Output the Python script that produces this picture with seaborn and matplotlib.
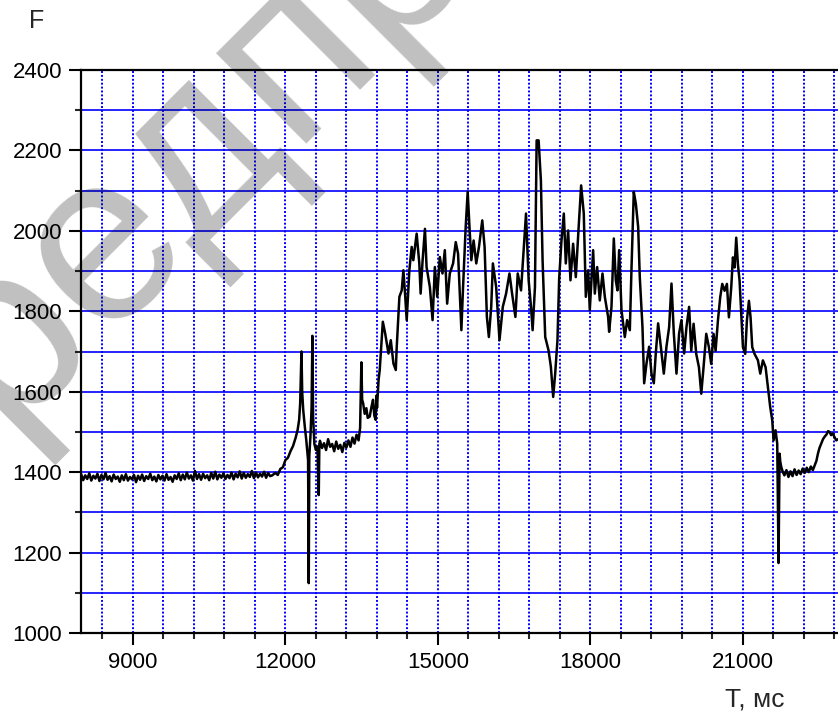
import numpy as np
import pandas as pd
import matplotlib
matplotlib.use("Agg")
import matplotlib.pyplot as plt
from matplotlib.ticker import MultipleLocator
import seaborn as sns

# ---- force trace, F versus T (ms) ----
# quiet baseline, sampled every 40 ms from 7980 ms
base_t0, base_dt = 7980, 40
base_f = [1395, 1380, 1392, 1383, 1397, 1379, 1391, 1384, 1396, 1378,
          1393, 1382, 1398, 1381, 1390, 1377, 1394, 1383, 1389, 1376,
          1392, 1380, 1395, 1379, 1388, 1382, 1393, 1375, 1391, 1381,
          1394, 1378, 1390, 1383, 1396, 1380, 1389, 1377, 1393, 1382,
          1391, 1379, 1395, 1381, 1388, 1376, 1392, 1383, 1397, 1380,
          1394, 1382, 1399, 1384, 1392, 1379, 1403, 1383, 1395, 1381,
          1396, 1385, 1392, 1380, 1398, 1384, 1401, 1382, 1394, 1386,
          1397, 1383, 1393, 1385, 1399, 1382, 1396, 1387, 1402, 1384,
          1398, 1386, 1395, 1388, 1403, 1385, 1399, 1387, 1396, 1389,
          1401, 1386, 1398, 1390]

# onset with the first spikes
onset_t = [11740, 11800, 11850, 11900, 11950, 12000, 12050, 12100, 12150, 12200,
           12240, 12270, 12290, 12316, 12330, 12350, 12380, 12410, 12446, 12459,
           12470, 12492, 12515, 12531, 12545, 12570, 12600, 12630, 12656, 12668]
onset_f = [1392, 1398, 1393, 1408, 1412, 1430, 1436, 1452, 1465, 1485,
           1505, 1530, 1570, 1700, 1600, 1555, 1515, 1480, 1430, 1124,
           1440, 1488, 1560, 1739, 1538, 1470, 1455, 1464, 1343, 1470]

# plateau before the main load, sampled every 40 ms from 12680 ms
mid_t0, mid_dt = 12680, 40
mid_f = [1478, 1460, 1472, 1455, 1482, 1463, 1470, 1452, 1476, 1458,
         1468, 1450, 1473, 1461, 1479, 1463, 1486, 1471, 1493, 1479]

# main loaded section
main_t = [13470, 13495, 13510, 13530, 13560, 13593, 13620, 13659, 13690, 13724,
          13750, 13777, 13790, 13803, 13833, 13856, 13917, 13963, 14028, 14074,
          14126, 14172, 14191, 14243, 14289, 14322, 14354, 14387, 14439, 14485,
          14517, 14583, 14635, 14661, 14700, 14746, 14778, 14843, 14896, 14941,
          14987, 15039, 15091, 15137, 15183, 15235, 15300, 15352, 15398, 15463,
          15496, 15548, 15587, 15626, 15659, 15704, 15756, 15809, 15874, 15920,
          15965, 16004, 16050, 16083, 16148, 16213, 16278, 16343, 16409, 16461,
          16526, 16572, 16637, 16683, 16735, 16787, 16833, 16865, 16911, 16944,
          16983, 17028, 17061, 17113, 17178, 17224, 17270, 17309, 17354, 17387,
          17433, 17479, 17518, 17564, 17610, 17662, 17715, 17767, 17820, 17872,
          17912, 17958, 17990, 18056, 18089, 18135, 18187, 18240, 18286, 18351,
          18371, 18417, 18463, 18502, 18535, 18568, 18614, 18679, 18725, 18778,
          18810, 18856, 18896, 18942, 18974, 19027, 19060, 19106, 19158, 19204,
          19250, 19289, 19335, 19388, 19447, 19499, 19552, 19598, 19644, 19696,
          19748, 19794, 19847, 19893, 19945, 19987, 20033, 20085, 20138, 20184,
          20229, 20282, 20334, 20380, 20426, 20466, 20512, 20557, 20597, 20643,
          20689, 20728, 20774, 20807, 20840, 20872, 20905, 20938, 20971, 21004,
          21049, 21082, 21122, 21154, 21187, 21233, 21299, 21345, 21397, 21450,
          21496, 21541, 21581, 21607, 21646, 21679, 21705, 21725, 21740, 21760,
          21790]
main_f = [1510, 1673, 1580, 1571, 1545, 1559, 1535, 1538, 1560, 1580,
          1540, 1530, 1590, 1560, 1629, 1654, 1774, 1745, 1695, 1728,
          1670, 1654, 1712, 1836, 1852, 1902, 1844, 1778, 1902, 1960,
          1927, 1993, 1919, 1844, 1927, 2005, 1910, 1860, 1778, 1910,
          1836, 1935, 1894, 1952, 1819, 1894, 1919, 1972, 1943, 1753,
          1860, 2010, 2097, 2001, 1927, 1976, 1919, 1960, 2026, 1960,
          1786, 1736, 1811, 1919, 1860, 1728, 1811, 1844, 1894, 1844,
          1786, 1894, 1852, 1943, 2043, 1877, 1811, 1753, 1860, 2225,
          2225, 2125, 1927, 1736, 1703, 1662, 1587, 1645, 1728, 1880,
          1976, 2043, 1919, 2001, 1877, 1968, 1885, 2001, 2113, 2043,
          1836, 1902, 1803, 1952, 1844, 1910, 1827, 1894, 1836, 1786,
          1749, 1811, 1981, 1877, 1852, 1952, 1803, 1736, 1778, 1753,
          1902, 2097, 2068, 2010, 1885, 1761, 1621, 1670, 1712, 1645,
          1621, 1695, 1770, 1712, 1645, 1712, 1761, 1869, 1745, 1645,
          1745, 1778, 1695, 1761, 1811, 1702, 1769, 1694, 1661, 1595,
          1661, 1744, 1711, 1669, 1744, 1702, 1777, 1835, 1868, 1851,
          1868, 1785, 1860, 1934, 1909, 1983, 1917, 1876, 1793, 1711,
          1694, 1777, 1826, 1785, 1711, 1694, 1678, 1645, 1678, 1661,
          1612, 1562, 1529, 1479, 1504, 1471, 1174, 1446, 1425, 1412,
          1400]

# settled level after unloading, sampled every 40 ms from 21820 ms
end_t0, end_dt = 21820, 40
end_f = [1392, 1405, 1388, 1402, 1390, 1407, 1393, 1404, 1395, 1409,
         1398, 1411, 1400, 1414, 1405, 1418]

tail_t = [22450, 22480, 22510, 22546, 22580, 22611, 22650, 22680, 22709, 22740,
          22775, 22810, 22841, 22875]
tail_f = [1428, 1446, 1460, 1471, 1482, 1488, 1494, 1502, 1500, 1492,
          1496, 1486, 1479, 1482]

T = np.concatenate([
    base_t0 + base_dt * np.arange(len(base_f)),
    onset_t,
    mid_t0 + mid_dt * np.arange(len(mid_f)),
    main_t,
    end_t0 + end_dt * np.arange(len(end_f)),
    tail_t,
])
F = np.concatenate([base_f, onset_f, mid_f, main_f, end_f, tail_f])
df = pd.DataFrame({"T": T, "F": F})

# ---- figure ----
sns.set_style("white")
plt.rcParams["font.family"] = ["Liberation Sans", "DejaVu Sans"]

W, H = 838, 716
fig = plt.figure(figsize=(W / 100, H / 100), dpi=100)
ax = fig.add_axes([81 / W, (H - 633) / H, (W - 81) / W, (633 - 70) / H])

sns.lineplot(data=df, x="T", y="F", ax=ax, color="black", linewidth=1.8,
             sort=False, estimator=None, zorder=5)

ax.set_xlim(7977, 22875)
ax.set_ylim(1000, 2400)

ax.xaxis.set_major_locator(MultipleLocator(3000))
ax.xaxis.set_minor_locator(MultipleLocator(600))
ax.yaxis.set_major_locator(MultipleLocator(200))
ax.yaxis.set_minor_locator(MultipleLocator(100))

ax.grid(which="both", axis="x", color="blue", linestyle=(0, (1, 1)), linewidth=1.4)
ax.grid(which="both", axis="y", color="blue", linestyle="-", linewidth=1.2)
ax.set_axisbelow(True)

for side in ("left", "bottom", "top"):
    ax.spines[side].set_visible(True)
    ax.spines[side].set_color("black")
    ax.spines[side].set_linewidth(1.6)
ax.spines["right"].set_visible(False)

ax.tick_params(which="major", direction="out", length=8.5, width=1.5,
               labelsize=16, colors="black", pad=5,
               bottom=True, left=True, top=False, right=False)
ax.tick_params(which="minor", direction="out", length=4.5, width=1.5,
               bottom=True, left=True, top=False, right=False)

ax.set_xlabel("T, мс", fontsize=19, va="center")
ax.xaxis.set_label_coords((755 - 81) / (W - 81), (633 - 699) / (633 - 70))
ax.set_ylabel("F", fontsize=18, rotation=0, ha="center", va="center")
ax.yaxis.set_label_coords((37 - 81) / (W - 81), (633 - 21) / (633 - 70))

# grey diagonal watermark
fig.text(-88 / W, 1 - 522 / H, "предпросмотр", rotation=45,
         rotation_mode="anchor", ha="left", va="baseline",
         fontsize=174, color="black", alpha=0.25,
         family=["Liberation Sans", "DejaVu Sans"], zorder=10)

fig.savefig("out.png", dpi=100)
